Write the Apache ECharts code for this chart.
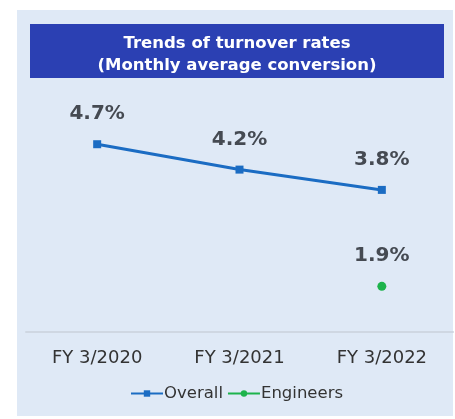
<!DOCTYPE html>
<html>
<head>
<meta charset="utf-8">
<script src="https://cdn.jsdelivr.net/npm/echarts@6/dist/echarts.min.js"></script>
<style>
  html, body { margin: 0; padding: 0; background: #ffffff; }
  #chart { width: 455px; height: 419px; }
</style>
</head>
<body>
<div id="chart"></div>
<script>
// Fiscal years shown on the category axis
const categories = ['FY 3/2020', 'FY 3/2021', 'FY 3/2022'];
// Monthly average turnover rate (%)
const overallRates = [4.7, 4.2, 3.8];
const engineerRates = [null, null, 1.9];

const chart = echarts.init(document.getElementById('chart'), null, { renderer: 'canvas' });

const labelStyle = {
  show: true,
  position: 'top',
  distance: 16,
  fontFamily: 'DejaVu Sans',
  fontWeight: 'bold',
  fontSize: 20,
  color: '#454a52',
  formatter: p => p.value.toFixed(1) + '%'
};

chart.setOption({
  backgroundColor: '#ffffff',
  graphic: [
    { type: 'rect', z: -10, shape: { x: 17, y: 10, width: 436, height: 406 }, style: { fill: '#dfe9f6' } },
    { type: 'rect', z: -9, shape: { x: 30, y: 24, width: 414, height: 54 }, style: { fill: '#2b40b3' } }
  ],
  title: {
    text: 'Trends of turnover rates\n(Monthly average conversion)',
    left: 232,
    textAlign: 'center',
    top: 28,
    textStyle: {
      color: '#ffffff',
      fontFamily: 'DejaVu Sans',
      fontWeight: 'bold',
      fontSize: 16.5,
      lineHeight: 22
    }
  },
  legend: {
    bottom: 12,
    left: 125,
    itemGap: 4,
    itemWidth: 32,
    itemHeight: 8,
    textStyle: { fontFamily: 'DejaVu Sans', fontSize: 16.5, color: '#333333', padding: [0, 0, 0, -4] },
    data: ['Overall', 'Engineers']
  },
  grid: { left: 26, right: 2, top: 129, bottom: 87 },
  xAxis: {
    type: 'category',
    data: categories,
    boundaryGap: true,
    axisLine: { lineStyle: { color: '#cfd7e2', width: 2 } },
    axisTick: { show: false },
    axisLabel: { margin: 17, fontFamily: 'DejaVu Sans', fontSize: 18, color: '#333333' }
  },
  yAxis: {
    type: 'value',
    min: 1,
    max: 5,
    show: false,
    splitLine: { show: false }
  },
  series: [
    {
      name: 'Overall',
      type: 'line',
      data: overallRates,
      symbol: 'rect',
      symbolSize: 8,
      color: '#1b6cc3',
      lineStyle: { width: 3, color: '#1b6cc3' },
      label: labelStyle
    },
    {
      name: 'Engineers',
      type: 'line',
      data: engineerRates,
      symbol: 'circle',
      symbolSize: 9,
      color: '#1db34c',
      lineStyle: { width: 3, color: '#1db34c' },
      label: labelStyle
    }
  ]
});
</script>
</body>
</html>
